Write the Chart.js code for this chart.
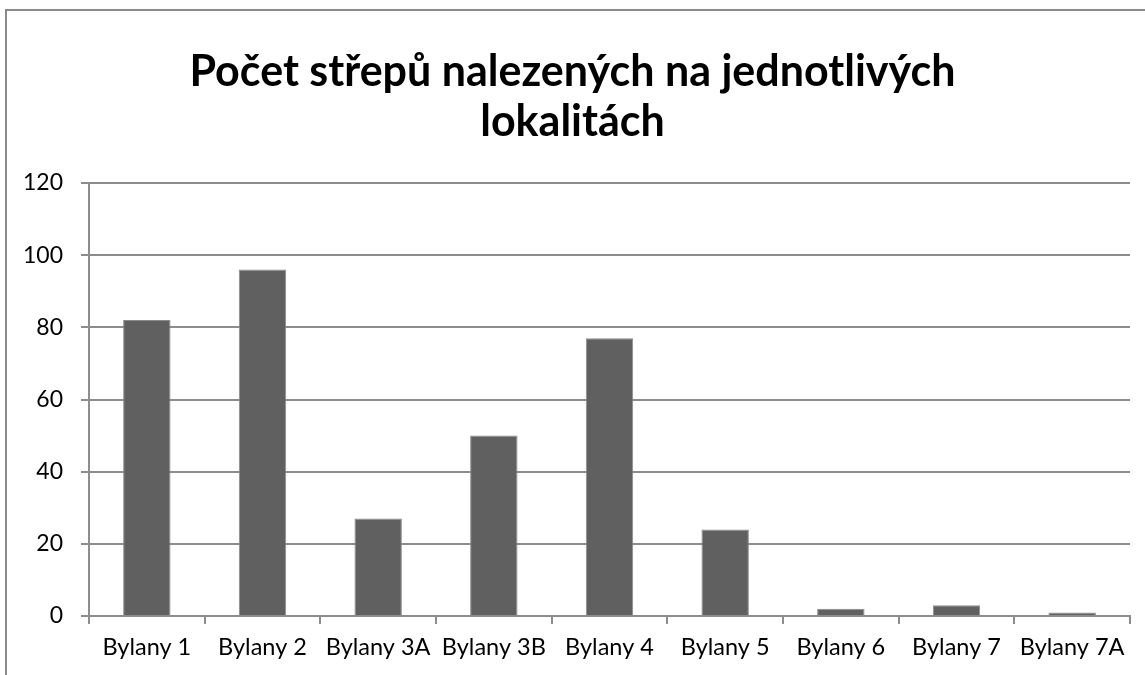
<!DOCTYPE html>
<html>
<head>
<meta charset="utf-8">
<title>Počet střepů</title>
<script src="https://cdn.jsdelivr.net/npm/chart.js@4/dist/chart.umd.min.js"></script>
<style>
  body { margin: 0; background: #fff; }
  #frame {
    position: absolute; left: 5px; top: 9px;
    width: 1200px; height: 720px;
    border: 2px solid #8a8a8a; background: #fff;
  }
  #wrap { position: absolute; left: 0; top: 0; width: 1145px; height: 675px; }
</style>
</head>
<body>
<div id="frame"></div>
<div id="wrap"><canvas id="graph" width="1145" height="675"></canvas></div>
<script>
var titleLines = ['Počet střepů nalezených na jednotlivých', 'lokalitách'];
var sites = ['Bylany 1', 'Bylany 2', 'Bylany 3A', 'Bylany 3B', 'Bylany 4', 'Bylany 5', 'Bylany 6', 'Bylany 7', 'Bylany 7A'];
var shardCounts = [82, 96, 27, 50, 77, 24, 2, 3, 1];
var yMax = 120;
var yStep = 20;

Chart.defaults.font.family = 'Lato, "Open Sans", sans-serif';
Chart.defaults.color = '#000';

var graphCanvas = document.getElementById('graph');

new Chart(graphCanvas, {
  type: 'bar',
  data: {
    labels: sites,
    datasets: [
      {
        data: shardCounts,
        backgroundColor: '#606060',
        borderColor: '#8c8c8c',
        borderWidth: 1,
        barPercentage: 0.41,
        categoryPercentage: 1
      }
    ]
  },
  options: {
    responsive: false,
    animation: false,
    // equal side padding keeps the title centred on the canvas
    layout: {
      padding: { left: 15, right: 15, top: 0, bottom: 0 }
    },
    plugins: {
      legend: { display: false },
      tooltip: { enabled: false },
      title: {
        display: true,
        text: titleLines,
        color: '#000',
        font: { size: 43, weight: 'bold', lineHeight: 50 / 43 },
        padding: { top: 47, bottom: 36 }
      }
    },
    scales: {
      x: {
        grid: {
          drawOnChartArea: false,
          drawTicks: true,
          tickLength: 8,
          color: '#8c8c8c',
          lineWidth: 2
        },
        border: { color: '#8c8c8c', width: 2 },
        ticks: {
          font: { size: 23.5 },
          padding: 9,
          maxRotation: 0,
          autoSkip: false
        },
        afterFit: function (scale) {
          scale.height = 59;
        }
      },
      y: {
        min: 0,
        max: yMax,
        grid: {
          color: '#8c8c8c',
          lineWidth: 2,
          tickLength: 8
        },
        border: { color: '#8c8c8c', width: 2 },
        ticks: {
          stepSize: yStep,
          font: { size: 23 },
          padding: 18
        },
        afterFit: function (scale) {
          scale.width = 74;
        }
      }
    }
  }
});
</script>
</body>
</html>
